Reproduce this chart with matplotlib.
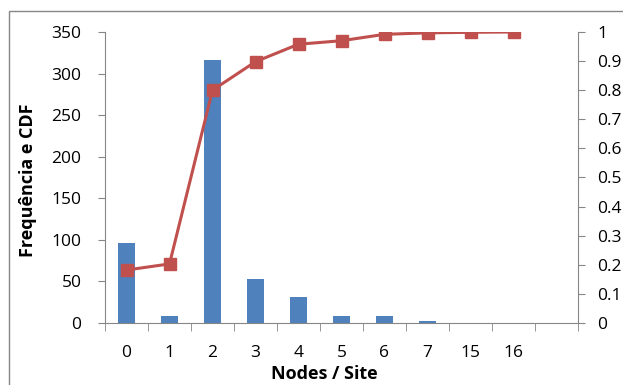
import matplotlib.pyplot as plt
from matplotlib.patches import Rectangle
import numpy as np

# data
categories = ['0', '1', '2', '3', '4', '5', '6', '7', '15', '16']
freq = [96, 9, 316, 53, 31, 8, 9, 3, 0, 0]
cdf = [0.182, 0.203, 0.80, 0.898, 0.958, 0.970, 0.992, 0.997, 0.999, 1.0]

plt.rcParams['font.family'] = ['Open Sans', 'DejaVu Sans']
grey = '#868686'

fig = plt.figure(figsize=(6.23, 3.85), dpi=100)
W, H = 623, 385
ax = fig.add_axes([105 / W, 1 - 323 / H, (578 - 105) / W, (323 - 32) / H])
ax2 = ax.twinx()

x = np.arange(len(categories))
ax.bar(x, freq, width=0.4, color='#4F81BD', zorder=2)
ax2.plot(x, cdf, color='#C0504D', lw=2.2, marker='s', ms=9, zorder=3)

n_slots = len(categories) + 1  # one empty slot at the end
ax.set_xlim(-0.5, n_slots - 0.5)
ax.set_ylim(0, 350)
ax2.set_ylim(0, 1)
ax.set_yticks(range(0, 351, 50))
ax2.set_yticks(np.round(np.arange(0, 1.01, 0.1), 1))
ax2.set_yticklabels(['0'] + ['%g' % v for v in np.arange(0.1, 0.95, 0.1)] + ['1'])

ax.set_xticks(x)
ax.set_xticklabels(categories)
ax.set_xticks(np.arange(-0.5, n_slots, 1), minor=True)
ax.tick_params(axis='x', which='major', length=0, pad=16, labelsize=12.5)
ax.tick_params(axis='x', which='minor', length=6, color=grey, direction='out')
ax.tick_params(axis='y', length=5, color=grey, labelsize=12.5, pad=12)
ax2.tick_params(axis='y', length=5, color=grey, labelsize=12.5, pad=9)

for a in (ax, ax2):
    a.spines['top'].set_visible(False)
    for s in ('left', 'right', 'bottom'):
        a.spines[s].set_color(grey)
ax.spines['right'].set_visible(False)
ax2.spines['left'].set_visible(False)
ax2.spines['bottom'].set_visible(False)

# axis titles placed where the reference has them
fig.text(324 / W, 1 - 374 / H, 'Nodes / Site', fontsize=13, fontweight='bold',
         ha='center', va='center')
fig.text(28 / W, 1 - 180 / H, 'Frequência e CDF', fontsize=13, fontweight='bold',
         ha='center', va='center', rotation=90)

# outer chart border (cut off on the right like the reference)
fig.patches.append(Rectangle((9 / W, -0.1), 1.0, 1 - 11 / H + 0.1,
                             transform=fig.transFigure, fill=False,
                             ec=grey, lw=1.0))

fig.savefig('out.png', dpi=100)
